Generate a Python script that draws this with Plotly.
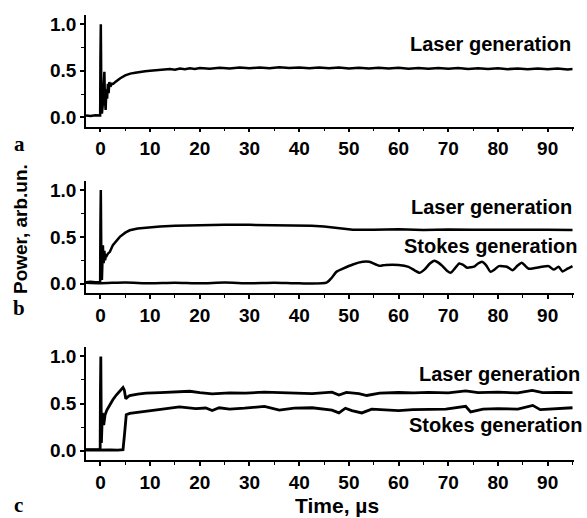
import plotly.graph_objects as go
from plotly.subplots import make_subplots

# ---- data ----
# Panel a: laser generation only
t_a = [-2.9, -2.0, -1.0, -0.3, -0.05, 0.0, 0.08, 0.18, 0.3, 0.45, 0.6, 0.8, 0.9, 1.05,
       1.2, 1.35, 1.5, 1.65, 1.8, 2.0, 2.3, 2.6, 3.0, 3.5, 4.0, 5.0, 6.0, 7.0, 8.0, 9.0,
       10, 11, 12, 13, 14, 15, 16, 17, 18, 19, 20, 22, 24, 26, 28, 30, 32, 34, 36, 38,
       40, 42, 44, 46, 48, 50, 52, 54, 56, 58, 60, 62, 64, 66, 68, 70, 72, 74, 76, 78,
       80, 82, 84, 86, 88, 90, 92, 94, 95]
p_a = [0.02, 0.015, 0.022, 0.015, 0.02, 0.6, 1.0, 0.3, 0.04, 0.12, 0.3, 0.49, 0.2, 0.08,
       0.3, 0.2, 0.36, 0.26, 0.38, 0.33, 0.36, 0.36, 0.38, 0.4, 0.42, 0.45, 0.47, 0.48, 0.49, 0.495,
       0.5, 0.505, 0.51, 0.515, 0.52, 0.512, 0.525, 0.518, 0.528, 0.52, 0.53, 0.522, 0.533, 0.525, 0.535, 0.527,
       0.536, 0.528, 0.537, 0.529, 0.536, 0.528, 0.535, 0.527, 0.535, 0.526, 0.534, 0.525, 0.533, 0.524, 0.532,
       0.523, 0.531, 0.522, 0.53, 0.521, 0.529, 0.52, 0.528, 0.519, 0.527, 0.518, 0.526, 0.517, 0.525,
       0.516, 0.524, 0.515, 0.52]

# Panel b: laser generation
t_b_las = [-2.9, -2.0, -1.0, -0.3, -0.05, 0.0, 0.08, 0.18, 0.3, 0.5, 0.65, 0.8, 0.95, 1.1,
           1.3, 1.5, 1.9, 2.5, 3.2, 3.9, 5.0, 5.9, 7.5, 9.2, 12, 15, 20, 25, 30, 35, 40,
           42.5, 45, 48.5, 50.8, 55, 60, 65, 70, 75, 80, 85, 90, 95]
p_b_las = [0.015, 0.02, 0.015, 0.02, 0.015, 0.6, 1.0, 0.3, 0.04, 0.41, 0.22, 0.35, 0.25, 0.31,
           0.3, 0.32, 0.34, 0.41, 0.46, 0.5, 0.545, 0.57, 0.59, 0.6, 0.61, 0.618, 0.625, 0.63, 0.628, 0.627, 0.622,
           0.618, 0.61, 0.59, 0.575, 0.577, 0.58, 0.574, 0.579, 0.575, 0.578, 0.573, 0.577, 0.572]

# Panel b: Stokes generation
t_b_st = [-2.9, 0, 5, 10, 15, 20, 25, 30, 35, 40, 45.5, 46.5, 47.5, 48.8, 50.8, 52.8, 54.1,
          56.1, 57.4, 60, 62, 63.3, 64.2, 65.2, 66.3, 67.2, 68.0, 68.8, 69.8, 70.5, 71.3, 72.2, 73.0, 73.8,
          75.3, 76.0, 76.8, 77.7, 78.5, 79.3, 80.2, 81.8, 82.9, 83.9, 84.8, 85.5, 86.2, 88.8, 90.2, 91.2,
          92.2, 93.0, 94.0, 95.0]
p_b_st = [0.01, 0.005, 0.012, 0.004, 0.01, 0.003, 0.011, 0.004, 0.01, 0.003, 0.01, 0.06, 0.126, 0.16, 0.205, 0.233, 0.233,
          0.19, 0.2, 0.2, 0.18, 0.14, 0.116, 0.15, 0.215, 0.244, 0.225, 0.19, 0.135, 0.116, 0.16, 0.216, 0.2, 0.17,
          0.185, 0.215, 0.233, 0.19, 0.126, 0.15, 0.187, 0.18, 0.144, 0.19, 0.223, 0.19, 0.16, 0.18, 0.187, 0.15,
          0.18, 0.13, 0.16, 0.187]

# Panel c: laser generation
t_c_las = [-2.9, -2.0, -1.0, -0.3, -0.05, 0.0, 0.08, 0.2, 0.4, 0.67, 0.94, 1.3, 1.87, 2.5, 3.2, 3.9,
           4.55, 4.8, 5.1, 5.5, 5.9, 7.5, 9.2, 12, 14, 16, 18, 20, 22.5, 26, 29.2, 33, 36, 40, 42.6,
           46.6, 48, 49.5, 52, 53.6, 56.2, 60, 63, 66, 70, 73.5, 76, 80, 84, 86.9, 89, 92, 95]
p_c_las = [0.01, 0.008, 0.01, 0.008, 0.01, 0.6, 1.0, 0.08, 0.4, 0.27, 0.38, 0.43, 0.486, 0.54, 0.59, 0.63,
           0.67, 0.645, 0.55, 0.57, 0.585, 0.6, 0.61, 0.615, 0.62, 0.617, 0.63, 0.615, 0.603, 0.612, 0.61, 0.62, 0.617, 0.612, 0.605,
           0.62, 0.59, 0.617, 0.605, 0.585, 0.61, 0.617, 0.612, 0.618, 0.613, 0.635, 0.615, 0.62, 0.612, 0.64, 0.615, 0.618, 0.615]

# Panel c: Stokes generation
t_c_st = [-2.9, -1.0, 0.5, 2.0, 3.5, 4.55, 4.9, 5.2, 5.9, 7.5, 9.2, 12.5, 15.9, 17.2, 19.2, 21.2, 22.5,
          23.9, 26, 29, 33, 36, 39, 42.6, 46.6, 48, 49.3, 50.6, 52.6, 54.6, 57.3, 60, 62.9, 66, 69.5,
          73.5, 74.5, 77, 80, 84, 87, 88.5, 92, 95]
p_c_st = [0.005, 0.008, 0.004, 0.008, 0.005, 0.01, 0.2, 0.38, 0.395, 0.405, 0.415, 0.44, 0.465, 0.455, 0.445, 0.452, 0.425,
          0.455, 0.44, 0.45, 0.47, 0.43, 0.45, 0.455, 0.43, 0.4, 0.45, 0.425, 0.4, 0.44, 0.43, 0.425, 0.435, 0.44, 0.44,
          0.47, 0.41, 0.44, 0.445, 0.44, 0.48, 0.435, 0.445, 0.455]

y_ticks = [0.0, 0.5, 1.0]
x_ticks = [0, 10, 20, 30, 40, 50, 60, 70, 80, 90]
labels_text = ["Laser generation", "Stokes generation"]

# ---- figure ----
fig = make_subplots(rows=3, cols=1)

line_style = dict(color="black", width=2.5)
fig.add_trace(go.Scatter(x=t_a, y=p_a, mode="lines", line=line_style), row=1, col=1)
fig.add_trace(go.Scatter(x=t_b_las, y=p_b_las, mode="lines", line=line_style), row=2, col=1)
fig.add_trace(go.Scatter(x=t_b_st, y=p_b_st, mode="lines", line=dict(color="black", width=2.5, shape="spline", smoothing=0.6)), row=2, col=1)
fig.add_trace(go.Scatter(x=t_c_las, y=p_c_las, mode="lines", line=dict(color="black", width=2.8)), row=3, col=1)
fig.add_trace(go.Scatter(x=t_c_st, y=p_c_st, mode="lines", line=dict(color="black", width=2.8)), row=3, col=1)

W, H = 587, 518
L, R, T, B = 86, 13, 15, 58
plot_w = W - L - R
plot_h = H - T - B


def py2paper(py):
    return (H - B - py) / plot_h


def px2paper(px):
    return (px - L) / plot_w


domains = [
    [py2paper(126.6), py2paper(15)],
    [py2paper(293), py2paper(180.7)],
    [py2paper(460), py2paper(347)],
]

tickfont = dict(family="Liberation Sans", size=19, color="black", weight="bold")
for i in range(3):
    n = "" if i == 0 else str(i + 1)
    fig.layout["xaxis" + n].update(
        range=[-2.9, 95.3], tickvals=x_ticks, showline=True, linecolor="black", linewidth=1.5,
        ticks="outside", ticklen=4, tickwidth=1.5, tickcolor="black", showgrid=False, zeroline=False,
        minor=dict(ticks="outside", ticklen=3, tickwidth=1.2, tickcolor="black", dtick=5, tick0=0),
        tickfont=tickfont, mirror=False,
    )
    fig.layout["yaxis" + n].update(
        range=[-0.1, 1.1], domain=domains[i], tickvals=y_ticks, tickformat=".1f",
        showline=True, linecolor="black", linewidth=1.5,
        ticks="outside", ticklen=4, tickwidth=1.5, tickcolor="black", showgrid=False, zeroline=False,
        minor=dict(ticks="outside", ticklen=3, tickwidth=1.2, tickcolor="black", dtick=0.25, tick0=0),
        tickfont=tickfont,
    )

ann_font = dict(family="Liberation Sans", size=20, color="black", weight="bold")
annotations = [
    dict(text=labels_text[0], x=px2paper(573), y=py2paper(44), font=ann_font),
    dict(text=labels_text[0], x=px2paper(573.5), y=py2paper(207), font=ann_font),
    dict(text=labels_text[1], x=px2paper(578.5), y=py2paper(246), font=ann_font),
    dict(text=labels_text[0], x=px2paper(582), y=py2paper(374), font=ann_font),
    dict(text=labels_text[1], x=px2paper(584), y=py2paper(425), font=ann_font),
]
for a in annotations:
    a.update(xref="paper", yref="paper", xanchor="right", yanchor="middle", showarrow=False)

title_font = dict(family="Liberation Sans", size=21, color="black", weight="bold")
annotations.append(dict(text="Power, arb.un.", x=px2paper(20), y=py2paper(229), xref="paper", yref="paper",
                        textangle=-90, showarrow=False,
                        font=dict(family="Liberation Sans", size=19, color="black", weight="bold"),
                        xanchor="center", yanchor="middle"))
annotations.append(dict(text="Time, µs", x=px2paper(337), y=py2paper(505), xref="paper", yref="paper",
                        showarrow=False, font=title_font, xanchor="center", yanchor="middle"))

panel_font = dict(family="Liberation Serif", size=21, color="black", weight="bold")
for lab, (px, py) in zip(["a", "b", "c"], [(19, 144), (19, 308), (18, 505)]):
    annotations.append(dict(text=lab, x=px2paper(px), y=py2paper(py), xref="paper", yref="paper",
                            showarrow=False, font=panel_font, xanchor="center", yanchor="middle"))

fig.update_layout(
    width=W, height=H, margin=dict(l=L, r=R, t=T, b=B),
    paper_bgcolor="white", plot_bgcolor="white", showlegend=False,
    annotations=annotations,
)

fig.write_html("out.html")
